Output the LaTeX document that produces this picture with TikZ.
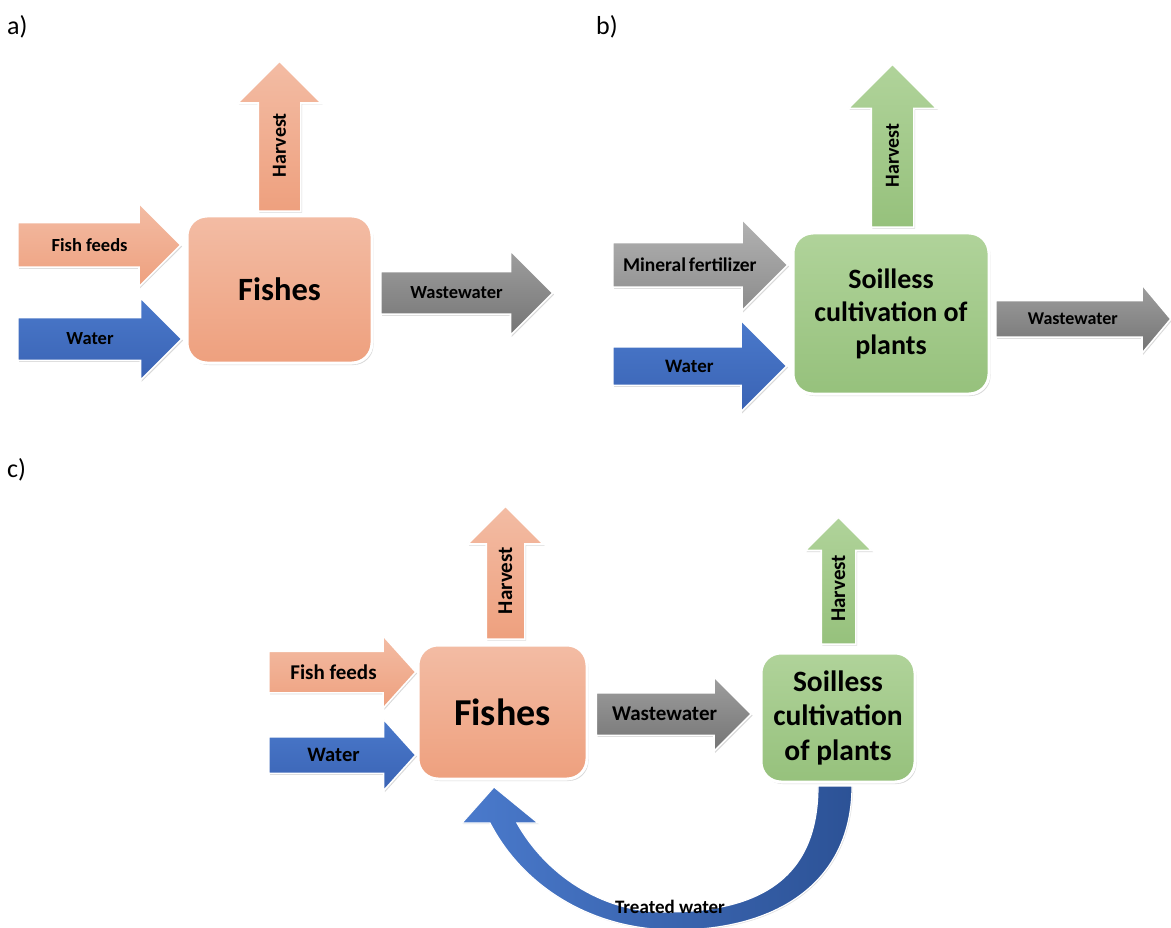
\documentclass[tikz,border=0pt]{standalone}
\usepackage{fontspec}
\setmainfont{Carlito}
\usetikzlibrary{shapes.arrows,shadows,calc}

\definecolor{salmontop}{RGB}{243,188,164}
\definecolor{salmonbot}{RGB}{238,160,126}
\definecolor{greentop}{RGB}{176,211,154}
\definecolor{greenbot}{RGB}{150,193,124}
\definecolor{bluetop}{RGB}{74,121,203}
\definecolor{bluebot}{RGB}{58,99,180}
\definecolor{greytop}{RGB}{158,158,158}
\definecolor{greybot}{RGB}{116,116,116}
\definecolor{paletop}{RGB}{178,178,178}
\definecolor{palebot}{RGB}{140,140,140}
\definecolor{arcleft}{RGB}{74,122,204}
\definecolor{arcright}{RGB}{44,82,150}

\tikzset{
  flow/.style={single arrow, draw=white, line width=1.6pt, inner sep=0pt,
    drop shadow={opacity=.3, shadow xshift=1.2pt, shadow yshift=-1.5pt}},
  asize/.style n args={3}{minimum height=#1, minimum width=#2,
    inner xsep=0pt, inner ysep={#3/2},
    single arrow head extend={(#2-#3)/2}},
  box/.style={rectangle, rounded corners=20pt, draw=white, line width=3pt,
    align=center, inner sep=0pt,
    drop shadow={opacity=.3, shadow xshift=1.5pt, shadow yshift=-2pt}},
  salmonfill/.style={top color=salmontop, bottom color=salmonbot},
  greenfill/.style={top color=greentop, bottom color=greenbot},
  bluefill/.style={top color=bluetop, bottom color=bluebot},
  greyfill/.style={top color=greytop, bottom color=greybot},
  palefill/.style={top color=paletop, bottom color=palebot},
  lbl/.style={font=\bfseries\fontsize{#1}{#1}\selectfont, inner sep=0pt},
  panel/.style={anchor=base west, font=\fontsize{26}{26}\selectfont, inner sep=0pt}
}

\begin{document}
\begin{tikzpicture}[x=1pt,y=-1pt]
  \useasboundingbox (0,0) rectangle (1171,928);

  \node[panel] (labA) at (7,35) {a)};
  \node[panel] (labB) at (596,35) {b)};
  \node[panel] (labC) at (7,477) {c)};

  % a) fish farming
  \node[box, salmonfill, minimum width=185, minimum height=147,
    font=\bfseries\fontsize{32.5}{36}\selectfont] (fishA) at (279.5,289.5) {Fishes};
  \node[flow, salmonfill, asize={163}{82}{43}, anchor=tail] (feedA) at (17,245) {};
  \node[lbl=18.5] (feedAtxt) at ($(feedA.tail)!0.44!(feedA.tip)$) {Fish feeds};
  \node[flow, bluefill, asize={164}{81}{41}, anchor=tail] (waterA) at (17,339) {};
  \node[lbl=18.5] (waterAtxt) at ($(waterA.tail)!0.44!(waterA.tip)$) {Water};
  \node[flow, greyfill, asize={172}{83}{41}, anchor=tail] (wasteA) at (380,293) {};
  \node[lbl=18.5] (wasteAtxt) at ($(wasteA.tail)!0.44!(wasteA.tip)$) {Wastewater};
  \node[flow, salmonfill, asize={150}{82}{41}, rotate=90, anchor=tail] (harvA) at (279.5,212) {};
  \node[lbl=20, rotate=90] (harvAtxt) at ($(harvA.tail)!0.44!(harvA.tip)$) {Harvest};

  % b) soilless cultivation
  \node[box, greenfill, minimum width=196, minimum height=161,
    font=\bfseries\fontsize{28}{33}\selectfont] (plantB) at (891,313.5) {Soilless\\cultivation of\\plants};
  \node[flow, palefill, asize={175}{90}{43}, anchor=tail] (fertB) at (612,265) {};
  \node[lbl=19.5] (fertBtxt) at ($(fertB.tail)!0.44!(fertB.tip)$) {Mineral\hspace{-1.5pt} fertilizer};
  \node[flow, bluefill, asize={174}{90}{37}, anchor=tail] (waterB) at (612,366) {};
  \node[lbl=19] (waterBtxt) at ($(waterB.tail)!0.44!(waterB.tip)$) {Water};
  \node[flow, greyfill, asize={175}{67}{35}, single arrow tip angle=100, anchor=tail] (wasteB) at (995,319) {};
  \node[lbl=18] (wasteBtxt) at ($(wasteB.tail)!0.44!(wasteB.tip)$) {Wastewater};
  \node[flow, greenfill, asize={163}{87}{41}, rotate=90, anchor=tail] (harvB) at (892.5,228) {};
  \node[lbl=20, rotate=90] (harvBtxt) at ($(harvB.tail)!0.44!(harvB.tip)$) {Harvest};

  % c) aquaponics
  \node[box, salmonfill, minimum width=169, minimum height=134,
    font=\bfseries\fontsize{38}{40}\selectfont] (fishC) at (502.5,712) {Fishes};
  \node[box, greenfill, minimum width=154, minimum height=129,
    font=\bfseries\fontsize{29.5}{34.5}\selectfont] (plantC) at (838,717.5) {Soilless\\cultivation\\of plants};
  \node[flow, salmonfill, asize={147}{71}{40}, single arrow tip angle=96, anchor=tail] (feedC) at (268,672) {};
  \node[lbl=21] (feedCtxt) at ($(feedC.tail)!0.44!(feedC.tip)$) {Fish feeds};
  \node[flow, bluefill, asize={147}{70}{35}, single arrow tip angle=96, anchor=tail] (waterC) at (268,755) {};
  \node[lbl=20.5] (waterCtxt) at ($(waterC.tail)!0.44!(waterC.tip)$) {Water};
  \node[flow, greyfill, asize={155}{73}{41}, anchor=tail] (wasteC) at ([xshift=7pt,yshift=-2pt]fishC.east) {};
  \node[lbl=21] (wasteCtxt) at ($(wasteC.tail)!0.44!(wasteC.tip)$) {Wastewater};
  \node[flow, salmonfill, asize={133}{74}{37}, rotate=90, anchor=tail] (harvC) at (505.5,640) {};
  \node[lbl=21, rotate=90] (harvCtxt) at ($(harvC.tail)!0.44!(harvC.tip)$) {Harvest};
  \node[flow, greenfill, asize={127}{65}{33}, rotate=90, anchor=tail] (harvD) at (838.5,645) {};
  \node[lbl=21, rotate=90] (harvDtxt) at ($(harvD.tail)!0.44!(harvD.tip)$) {Harvest};

  % treated water back to the fish tank
  \path[left color=arcleft, right color=arcright, draw=white, line width=1.2pt,
    drop shadow={opacity=.25, shadow xshift=1pt, shadow yshift=-1pt}]
    (852,786) .. controls (852,880) and (780,930) .. (675,930)
    .. controls (590,930) and (522,885) .. (490,823)
    -- (462,823) -- (494,787) -- (538,823) -- (517,823)
    .. controls (545,873) and (600,912) .. (665,912)
    .. controls (770,912) and (818,870) .. (818,786) -- cycle;
  \node[lbl=19, anchor=base] (treatTxt) at (670,913) {Treated water};
\end{tikzpicture}
\end{document}
